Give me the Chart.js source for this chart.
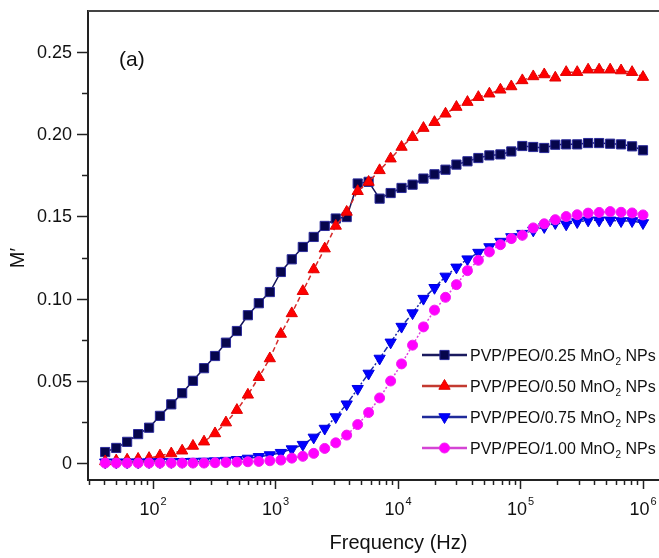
<!DOCTYPE html>
<html lang="en">
<head>
<meta charset="UTF-8">
<title>M' vs frequency</title>
<script src="https://cdn.jsdelivr.net/npm/chart.js"></script>
<style>
  body { margin: 0; background: #fff; overflow: hidden; }
  canvas { display: block; }
</style>
</head>
<body>
<canvas id="chart" width="659" height="558"></canvas>
<script>
// frequency points (Hz)
const freq = [40.7, 50.1, 61.5, 75.6, 92.9, 114, 141, 173, 212, 261,
  321, 394, 484, 595, 731, 899, 1106, 1358, 1671, 2051,
  2523, 3105, 3811, 4688, 5754, 7079, 8710, 10690, 13150, 16140,
  19860, 24430, 29990, 36900, 45290, 55720, 68550, 84140, 103500, 127100,
  156300, 192300, 236000, 290400, 356500, 438500, 539500, 662200, 814700, 1000000];

const m025 = [0.0067, 0.0092, 0.0129, 0.0176, 0.0215, 0.0287, 0.0357, 0.0425, 0.0500, 0.0577,
  0.0651, 0.0732, 0.0803, 0.0899, 0.0972, 0.1040, 0.1162, 0.1239, 0.1314, 0.1375,
  0.1442, 0.1487, 0.1496, 0.1700, 0.1710, 0.1608, 0.1642, 0.1673, 0.1693, 0.1730,
  0.1756, 0.1784, 0.1815, 0.1835, 0.1855, 0.1871, 0.1877, 0.1895, 0.1928, 0.1922,
  0.1916, 0.1936, 0.1938, 0.1938, 0.1946, 0.1946, 0.1942, 0.1938, 0.1926, 0.1902];

const m050 = [0.0010, 0.0015, 0.0020, 0.0025, 0.0030, 0.0045, 0.0058, 0.0075, 0.0104, 0.0130,
  0.0180, 0.0246, 0.0322, 0.0415, 0.0522, 0.0636, 0.0785, 0.0910, 0.1045, 0.1177,
  0.1304, 0.1442, 0.1527, 0.1653, 0.1709, 0.1780, 0.1851, 0.1922, 0.1982, 0.2037,
  0.2073, 0.2124, 0.2165, 0.2195, 0.2225, 0.2246, 0.2270, 0.2290, 0.2327, 0.2351,
  0.2363, 0.2343, 0.2377, 0.2377, 0.2392, 0.2392, 0.2392, 0.2387, 0.2377, 0.2347];

const m075 = [0.0005, 0.0005, 0.0005, 0.0005, 0.0006, 0.0006, 0.0007, 0.0008, 0.0009, 0.0010,
  0.0012, 0.0015, 0.0020, 0.0028, 0.0038, 0.0049, 0.0063, 0.0085, 0.0112, 0.0156,
  0.0210, 0.0280, 0.0358, 0.0452, 0.0545, 0.0636, 0.0734, 0.0830, 0.0912, 0.1000,
  0.1066, 0.1135, 0.1190, 0.1240, 0.1280, 0.1314, 0.1347, 0.1375, 0.1395, 0.1415,
  0.1436, 0.1460, 0.1452, 0.1466, 0.1476, 0.1476, 0.1476, 0.1472, 0.1472, 0.1460];

const m100 = [0.0000, 0.0000, 0.0000, 0.0000, 0.0000, 0.0000, 0.0000, 0.0000, 0.0000, 0.0000,
  0.0002, 0.0004, 0.0006, 0.0008, 0.0010, 0.0014, 0.0018, 0.0030, 0.0041, 0.0059,
  0.0089, 0.0123, 0.0170, 0.0234, 0.0307, 0.0396, 0.0499, 0.0603, 0.0717, 0.0828,
  0.0930, 0.1008, 0.1085, 0.1170, 0.1233, 0.1284, 0.1328, 0.1365, 0.1385, 0.1430,
  0.1455, 0.1480, 0.1499, 0.1510, 0.1520, 0.1524, 0.1529, 0.1525, 0.1521, 0.1509];

const seriesNames = ['0.25', '0.50', '0.75', '1.00'];
const yLabelTicks = [0, 0.05, 0.10, 0.15, 0.20, 0.25];
const yLabels = ['0', '0.05', '0.10', '0.15', '0.20', '0.25'];
const xDecades = [2, 3, 4, 5, 6];

const FONT = "'Liberation Sans', Arial, Helvetica, sans-serif";

function pts(vals) {
  return vals.map((v, i) => ({ x: freq[i], y: v }));
}

// legend line colours differ a bit from the markers in the original
const legendLine = ['#1a1a5e', '#c33a30', '#1f2a9a', '#d444d4'];

function drawMarker(ctx, ds, x, y) {
  ctx.fillStyle = ds.pointBackgroundColor;
  ctx.strokeStyle = ds.pointBorderColor;
  ctx.lineWidth = ds.pointBorderWidth;
  ctx.setLineDash([]);
  if (Chart.helpers && Chart.helpers.drawPoint) {
    Chart.helpers.drawPoint(ctx, {
      pointStyle: ds.pointStyle,
      rotation: ds.pointRotation || 0,
      radius: ds.pointRadius,
      borderWidth: ds.pointBorderWidth
    }, x, y);
    return;
  }
  ctx.beginPath();
  ctx.arc(x, y, ds.pointRadius, 0, Math.PI * 2);
  ctx.fill();
}

const decor = {
  id: 'decor',
  afterDraw(chart) {
    const { ctx, chartArea: a, scales: { x, y } } = chart;
    ctx.save();
    ctx.setLineDash([]);

    // frame top
    ctx.strokeStyle = '#444';
    ctx.lineWidth = 2;
    ctx.beginPath();
    ctx.moveTo(a.left, a.top);
    ctx.lineTo(a.right, a.top);
    ctx.stroke();

    // y ticks (outside) + labels
    ctx.strokeStyle = '#222';
    ctx.lineWidth = 1.5;
    ctx.fillStyle = '#111';
    ctx.font = '18px ' + FONT;
    ctx.textAlign = 'right';
    ctx.textBaseline = 'middle';
    yLabelTicks.forEach((v, i) => {
      let py = Math.round(y.getPixelForValue(v)) + 0.5;
      ctx.beginPath();
      ctx.moveTo(a.left - 11, py);
      ctx.lineTo(a.left, py);
      ctx.stroke();
      ctx.fillText(yLabels[i], a.left - 16, py + 1);
      const mid = v + 0.025;
      py = Math.round(y.getPixelForValue(mid)) + 0.5;
      if (py > a.top + 2) {
        ctx.beginPath();
        ctx.moveTo(a.left - 6, py);
        ctx.lineTo(a.left, py);
        ctx.stroke();
      }
    });

    // x ticks (outside), log minors
    for (let d = 1; d <= 6; d++) {
      for (let m = 1; m <= 9; m++) {
        const v = m * Math.pow(10, d);
        if (v < x.min || v > x.max) continue;
        const px = Math.round(x.getPixelForValue(v)) + 0.5;
        const len = m === 1 ? 9 : 5;
        ctx.beginPath();
        ctx.moveTo(px, a.bottom);
        ctx.lineTo(px, a.bottom + len);
        ctx.stroke();
      }
    }

    // x tick labels 10^n
    ctx.textBaseline = 'alphabetic';
    ctx.textAlign = 'left';
    xDecades.forEach(d => {
      const px = x.getPixelForValue(Math.pow(10, d));
      ctx.font = '18px ' + FONT;
      const w10 = ctx.measureText('10').width;
      ctx.font = '11px ' + FONT;
      const ws = ctx.measureText(String(d)).width;
      const start = px - (w10 + ws + 1) / 2;
      ctx.font = '18px ' + FONT;
      ctx.fillText('10', start, 515);
      ctx.font = '11px ' + FONT;
      ctx.fillText(String(d), start + w10 + 1, 505);
    });

    // axis titles
    ctx.font = '20px ' + FONT;
    ctx.textAlign = 'center';
    ctx.fillText('Frequency (Hz)', 398.5, 549);
    ctx.save();
    ctx.translate(24, 258);
    ctx.rotate(-Math.PI / 2);
    ctx.fillText('M\u2032', 0, 0);
    ctx.restore();

    // panel label
    ctx.textAlign = 'left';
    ctx.font = '21px ' + FONT;
    ctx.fillText('(a)', 119, 66);

    // legend
    const rows = [355, 386, 417, 448];
    chart.data.datasets.forEach((ds, i) => {
      const ry = rows[i];
      ctx.strokeStyle = legendLine[i];
      ctx.lineWidth = 2.5;
      ctx.setLineDash([]);
      ctx.beginPath();
      ctx.moveTo(422, ry);
      ctx.lineTo(467, ry);
      ctx.stroke();
      drawMarker(ctx, ds, 444.5, ry);
      ctx.fillStyle = '#111';
      ctx.font = '16px ' + FONT;
      ctx.textAlign = 'left';
      const t1 = 'PVP/PEO/' + seriesNames[i] + ' MnO';
      ctx.fillText(t1, 470, ry + 6);
      let cx = 470 + ctx.measureText(t1).width;
      ctx.font = '10px ' + FONT;
      ctx.fillText('2', cx + 0.5, ry + 10);
      cx += ctx.measureText('2').width + 0.5;
      ctx.font = '16px ' + FONT;
      ctx.fillText(' NPs', cx, ry + 6);
    });

    ctx.restore();
  }
};

new Chart(document.getElementById('chart'), {
  type: 'line',
  data: {
    datasets: [
      {
        label: 'PVP/PEO/0.25 MnO2 NPs', data: pts(m025), order: 4,
        borderColor: '#14145a', borderWidth: 1.5,
        pointStyle: 'rect', pointRadius: 6.5, pointBorderWidth: 1,
        pointBackgroundColor: '#06064c', pointBorderColor: '#2a2a9a'
      },
      {
        label: 'PVP/PEO/0.50 MnO2 NPs', data: pts(m050), order: 3,
        borderColor: '#d62a2a', borderWidth: 1.5, borderDash: [5, 3],
        pointStyle: 'triangle', pointRadius: 6.5, pointBorderWidth: 1,
        pointBackgroundColor: '#ff0000', pointBorderColor: '#e00000'
      },
      {
        label: 'PVP/PEO/0.75 MnO2 NPs', data: pts(m075), order: 2,
        borderColor: '#1b2aa8', borderWidth: 1.5, borderDash: [6, 2, 2, 2],
        pointStyle: 'triangle', pointRotation: 180, pointRadius: 6.5, pointBorderWidth: 1,
        pointBackgroundColor: '#0000ff', pointBorderColor: '#0000e0'
      },
      {
        label: 'PVP/PEO/1.00 MnO2 NPs', data: pts(m100), order: 1,
        borderColor: '#e040e0', borderWidth: 1.5, borderDash: [2, 2],
        pointStyle: 'circle', pointRadius: 5, pointBorderWidth: 1,
        pointBackgroundColor: '#ff00ff', pointBorderColor: '#f020f0'
      }
    ]
  },
  options: {
    responsive: false,
    animation: false,
    devicePixelRatio: 1,
    layout: { autoPadding: false, padding: { top: 11, left: 0, right: 0, bottom: 0 } },
    plugins: { legend: { display: false }, tooltip: { enabled: false } },
    scales: {
      x: {
        type: 'logarithmic',
        min: 29.47,
        max: 1351000,
        grid: { display: false, drawTicks: false },
        border: { display: true, color: '#222', width: 2 },
        ticks: { display: false },
        afterFit(s) { s.height = 78; }
      },
      y: {
        type: 'linear',
        min: -0.0103,
        max: 0.2749,
        grid: { display: false, drawTicks: false },
        border: { display: true, color: '#222', width: 2 },
        ticks: { display: false },
        afterFit(s) { s.width = 88; }
      }
    }
  },
  plugins: [decor]
});
</script>
</body>
</html>
